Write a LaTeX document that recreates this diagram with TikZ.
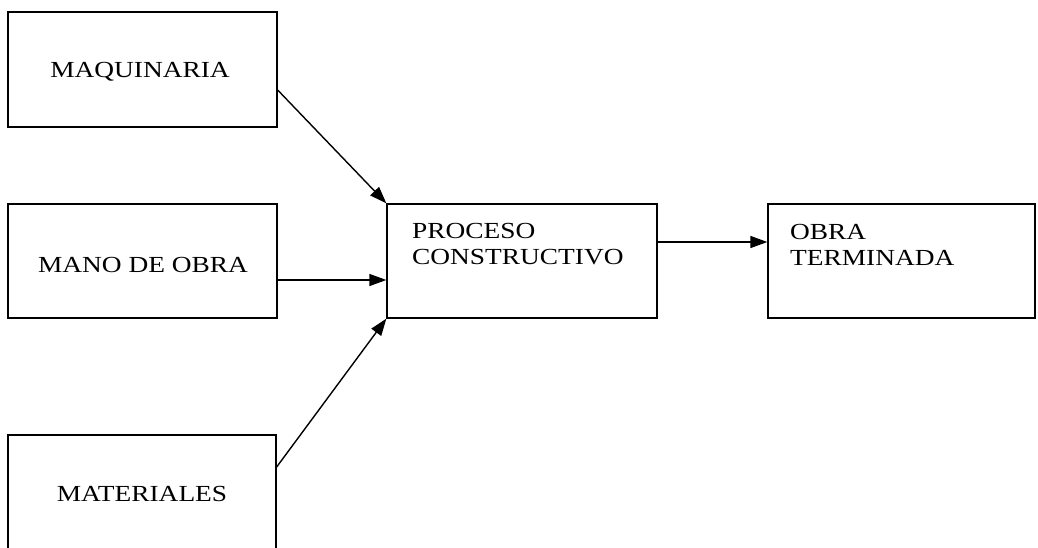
\documentclass[tikz,border=0pt]{standalone}
\usepackage{fontspec}
\setmainfont[FakeStretch=1.19]{Liberation Serif}
\usetikzlibrary{arrows.meta}
\begin{document}
\begin{tikzpicture}[x=1pt,y=-1pt,
  box/.style={draw, line width=1.3pt, inner sep=0pt},
  lbl/.style={inner sep=0pt, font=\fontsize{23}{26}\selectfont},
  lbll/.style={lbl, anchor=north west, align=left},
  conn/.style={line width=1.4pt, -{Triangle[length=17pt,width=12pt]}}]
\useasboundingbox (0,0) rectangle (1038,548);
% boxes
\node[box, minimum width=269pt, minimum height=115pt] (maq) at (142.5,69.5) {};
\node[box, minimum width=269pt, minimum height=114pt] (mano) at (142.5,261) {};
\node[box, minimum width=268pt, minimum height=130pt] (mat) at (142,500) {};
\node[box, minimum width=270pt, minimum height=114pt] (proc) at (522,261) {};
\node[box, minimum width=267pt, minimum height=114pt] (obra) at (901.5,261) {};
% labels
\node[lbl] (tmaq) at (140,72) {MAQUINARIA};
\node[lbl] (tmano) at (143,265) {MANO DE OBRA};
\node[lbl] (tmat) at (142,494) {MATERIALES};
\node[lbll] (tproc) at (412,223) {PROCESO\\CONSTRUCTIVO};
\node[lbll] (tobra) at (790,224) {OBRA\\TERMINADA};
% connectors
\draw[conn] (maq.east |- 0,90) -- (proc.north west);
\draw[conn] (mano.east |- 0,280) -- (proc.west |- 0,280);
\draw[conn] (mat.east |- 0,467) -- (proc.south west);
\draw[conn] (proc.east |- 0,242) -- (obra.west |- 0,242);
\end{tikzpicture}
\end{document}
